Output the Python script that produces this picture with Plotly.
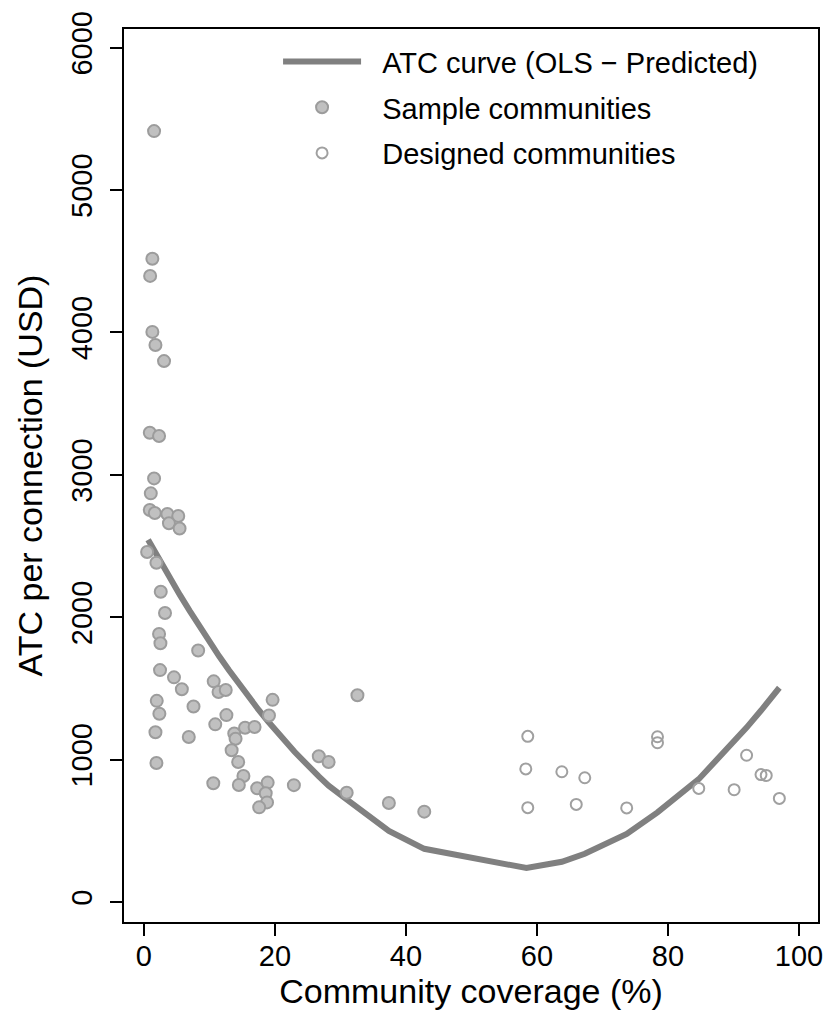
import plotly.graph_objects as go

# Sample communities (coverage %, ATC USD)
sample_x = [1.56, 1.3, 0.96, 1.3, 1.77, 3.08, 0.91, 2.32, 1.56, 1.06, 0.91, 1.67, 3.59, 5.25,
            3.83, 5.45, 0.5, 1.92, 2.58, 3.23, 2.32, 2.53, 8.29, 2.47, 4.6, 5.8, 10.66, 11.4,
            12.5, 19.65, 1.97, 7.58, 2.37, 19.1, 12.6, 10.9, 1.77, 6.86, 13.8, 15.45, 16.9,
            14.0, 13.4, 14.4, 1.92, 26.7, 28.2, 15.2, 14.5, 10.6, 17.3, 18.9, 18.6, 22.9,
            18.8, 17.6, 32.6, 30.96, 37.4, 42.8]
sample_y = [5414, 4518, 4397, 4004, 3912, 3799, 3296, 3273, 2975, 2870, 2753, 2732, 2725, 2711,
            2660, 2623, 2458, 2383, 2179, 2030, 1883, 1818, 1767, 1629, 1578, 1494, 1550, 1475,
            1489, 1420, 1413, 1373, 1322, 1310, 1313, 1248, 1192, 1159, 1184, 1224, 1229,
            1147, 1066, 984, 977, 1024, 984, 885, 822, 834, 799, 839, 764, 821,
            700, 665, 1452, 768, 696, 635]

# Designed communities
designed_x = [58.6, 58.3, 58.6, 63.8, 67.3, 66.0, 73.7, 78.4, 78.4, 84.7, 90.1, 92.0, 94.2, 95.0, 97.0]
designed_y = [1164, 935, 663, 915, 873, 686, 661, 1161, 1119, 798, 789, 1031, 895, 889, 728]

# ATC curve (OLS predicted)
curve_x = [0.65, 2, 3, 4, 5.5, 7, 8.3, 10, 11.5, 13, 14.5, 16, 17.5, 19, 20.5, 23, 26.7,
           28.2, 31, 32.6, 37.4, 42.8, 58.4, 63.8, 66.0, 67.3, 73.7, 78.4, 84.7, 90.1,
           92.0, 94.2, 95.0, 97.0]
curve_y = [2545, 2433, 2353, 2273, 2157, 2045, 1949, 1829, 1726, 1628, 1532, 1440, 1351,
           1266, 1185, 1055, 882, 818, 720, 665, 500, 374, 239, 283, 312, 339, 479, 630,
           863, 1125, 1225, 1345, 1395, 1505]

x_ticks = [0, 20, 40, 60, 80, 100]
y_ticks = [0, 1000, 2000, 3000, 4000, 5000, 6000]

FONT = "Liberation Sans, Arial, Helvetica, sans-serif"
PAD = "\u00a0\u00a0"

fig = go.Figure()
fig.add_trace(go.Scatter(
    x=curve_x, y=curve_y, mode="lines", name=PAD + "ATC curve (OLS \u2212 Predicted)",
    line=dict(color="#808080", width=6), legendgroup="a"))
fig.add_trace(go.Scatter(
    x=sample_x, y=sample_y, mode="markers", name=PAD + "Sample communities",
    marker=dict(size=12, color="#c0c0c0", line=dict(color="#9c9c9c", width=2)),
    legendgroup="b"))
fig.add_trace(go.Scatter(
    x=designed_x, y=designed_y, mode="markers", name=PAD + "Designed communities",
    marker=dict(size=11, color="rgba(0,0,0,0)", line=dict(color="#a0a0a0", width=2)),
    legendgroup="c"))

fig.update_layout(
    width=834, height=1031,
    margin=dict(l=124, r=11, t=24, b=109),
    paper_bgcolor="white", plot_bgcolor="white",
    font=dict(family=FONT, size=29, color="black"),
    showlegend=True,
    legend=dict(x=0.222, y=0.992, xanchor="left", yanchor="top",
                bgcolor="rgba(0,0,0,0)", borderwidth=0,
                font=dict(size=29), itemwidth=78, tracegroupgap=5,
                traceorder="grouped"),
)
fig.update_xaxes(
    range=[-3.03, 102.9], tickvals=x_ticks, ticktext=[str(v) for v in x_ticks],
    ticks="outside", ticklen=12, tickwidth=2, tickcolor="black",
    showline=True, linecolor="black", linewidth=2, mirror=True,
    showgrid=False, zeroline=False,
    tickfont=dict(size=29), ticklabelstandoff=-5,
    title=dict(text="Community coverage (%)", font=dict(size=34), standoff=8),
)
fig.update_yaxes(
    range=[-140, 6131], tickvals=y_ticks, ticktext=[str(v) for v in y_ticks],
    ticks="outside", ticklen=12, tickwidth=2, tickcolor="black",
    showline=True, linecolor="black", linewidth=2, mirror=True,
    showgrid=False, zeroline=False, tickangle=-90,
    tickfont=dict(size=29), ticklabelstandoff=6,
    title=dict(text="ATC per connection (USD)", font=dict(size=34), standoff=14),
)

fig.write_html("out.html")
